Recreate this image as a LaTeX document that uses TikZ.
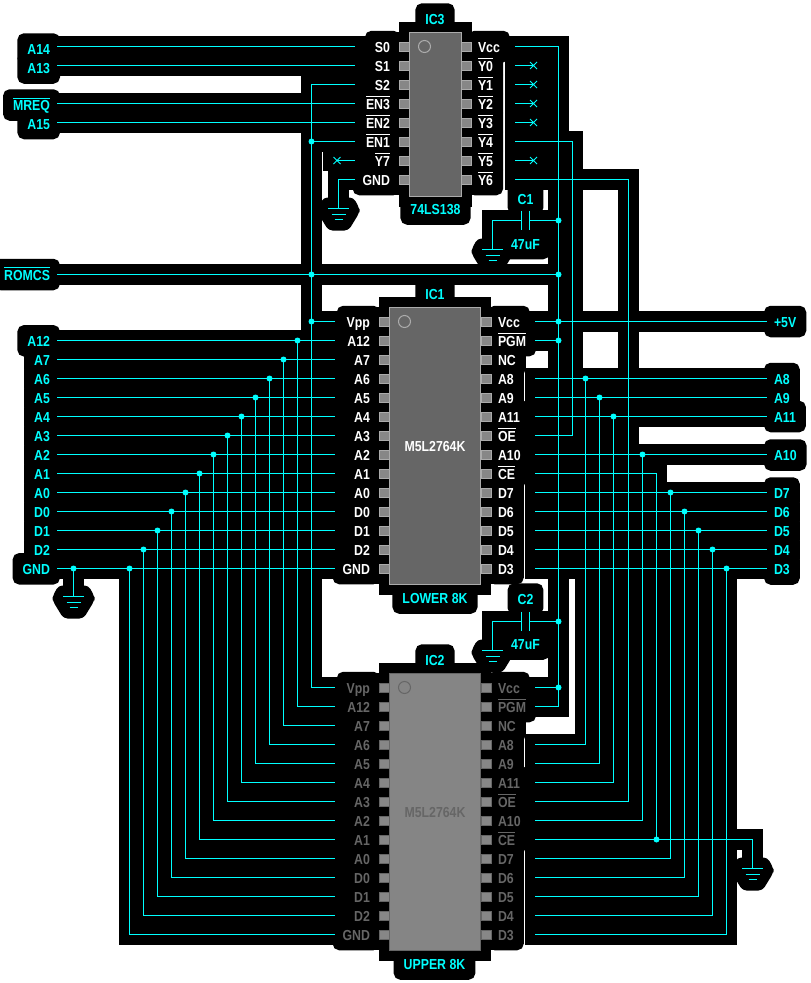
\documentclass[tikz,border=0pt]{standalone}
\usepackage{fontspec}
\setmainfont[FakeStretch=0.85]{Liberation Sans}
\usetikzlibrary{shapes.misc}
\pgfdeclarelayer{halo}
\pgfsetlayers{halo,main}
\definecolor{wirecol}{HTML}{00FFFF}
\newsavebox\ovlbox
\newcommand{\ovl}[1]{\sbox\ovlbox{#1}\rlap{\rule[11.9pt]{\wd\ovlbox}{1pt}}\usebox\ovlbox}
\tikzset{
  every node/.style={font=\fontsize{14.5pt}{15pt}\bfseries\selectfont,text height=11.5pt,text depth=0pt,outer sep=0pt},
  lbl/.style={inner sep=7pt,text=wirecol},
  glowbox/.style={draw=black,fill=black,line width=6pt,rounded corners=4pt},
  glowline/.style={draw=black,line width=21pt,line cap=rect,line join=miter},
  glowshape/.style={draw=none,fill=black,rounded corners=4pt},
  wireline/.style={draw=wirecol,line width=1pt},
  dot/.style={circle,fill=wirecol,inner sep=0pt,minimum size=6pt,text height=,text depth=},
  nomark/.style={cross out,draw=wirecol,line width=1pt,inner sep=0pt,minimum size=7pt,text height=,text depth=},
  capbox/.style={inner sep=0pt,minimum width=8pt,minimum height=19.5pt,text height=,text depth=},
  pinone/.style={circle,line width=1pt,minimum size=12pt,inner sep=0pt,text height=,text depth=},
  bodyA/.style={draw=black!33,fill=black!60,line width=1pt,inner sep=0pt,text=white},
  bodyB/.style={draw=black!60,fill=black!48,line width=1pt,inner sep=0pt,text=black!60},
  pinA/.style={draw=black!33,fill=black!47,line width=1pt,minimum width=10pt,minimum height=9pt,inner sep=0pt,text height=,text depth=},
  pinB/.style={draw=black!60,fill=black!47,line width=1pt,minimum width=10pt,minimum height=9pt,inner sep=0pt,text height=,text depth=},
  txtA/.style={text=white},
  txtB/.style={text=black!60},
}
% black surrounds are collected and all drawn at the end, on the lower layer
\gdef\haloqueue{\fill[white] (0,0) rectangle (811,983);}
\newcommand{\halo}[2][glowline]{\xdef\haloqueue{\unexpanded\expandafter{\haloqueue}\noexpand\draw[#1] #2;}}
\newcommand{\lab}[4][]{%
  \node[lbl,#1] (#2) at (#3) {#4};
  \halo[glowbox]{(#2.south west) rectangle (#2.north east)}}
\newcommand{\wire}[1]{%
  \halo{#1}
  \draw[wireline] #1;}
% chip number, body left, body right, first pin y, pin style, text style, left pins, right pins
\newcommand{\chippins}[8]{%
  \foreach \n/\txt [count=\i from 0] in {#7} {
    \lab[anchor=east,#6]{t#1\n}{#2-12,#4+19*\i}{\txt}
    \node[#5] (p#1\n) at (#2-5,#4+19*\i) {};
    \halo{(p#1\n.south west) rectangle (p#1\n.north east)}
    \coordinate (w#1\n) at (#2-54,#4+19*\i);
  }
  \foreach \n/\txt [count=\i from 0] in {#8} {
    \lab[anchor=west,#6]{t#1\n}{#3+10,#4+19*\i}{\txt}
    \node[#5] (p#1\n) at (#3+5,#4+19*\i) {};
    \halo{(p#1\n.south west) rectangle (p#1\n.north east)}
    \coordinate (w#1\n) at (#3+54,#4+19*\i);
  }}
\newcommand{\ground}[2]{%
  \coordinate (#1) at (#2);
  \halo[glowshape,shift={(#2)}]{(-15,-11) -- (15,-11) -- (21,0) -- (21,4) -- (10,22) -- (-10,22) -- (-21,4) -- (-21,0) -- cycle}
  \begin{scope}[shift={(#2)}]
    \draw[wireline] (-10.5,0) -- (10.5,0) (-7,5.5) -- (7,5.5) (-4,11) -- (4,11);
  \end{scope}}
\begin{document}
\begin{tikzpicture}[x=1pt,y=-1pt]
\useasboundingbox (0,0) rectangle (811,983);
% chips
\node[bodyA,minimum width=52pt,minimum height=164pt] (IC3) at (435,114) {};
\node[bodyA,minimum width=91pt,minimum height=277pt] (IC1) at (435,445.5) {M5L2764K};
\node[bodyB,minimum width=91pt,minimum height=277pt] (IC2) at (435,811.5) {M5L2764K};
\halo{(IC3.south west) rectangle (IC3.north east)}
\halo{(IC1.south west) rectangle (IC1.north east)}
\halo{(IC2.south west) rectangle (IC2.north east)}
\node[pinone,draw=black!33] (one3) at (424.5,46.5) {};
\node[pinone,draw=black!33] (one1) at (404.5,321.5) {};
\node[pinone,draw=black!60] (one2) at (404.5,687.5) {};
\chippins{3}{409}{461}{46.5}{pinA}{txtA}
  {S0/S0,S1/S1,S2/S2,EN3/\ovl{EN3},EN2/\ovl{EN2},EN1/\ovl{EN1},Y7/\ovl{Y7},GND/GND}
  {Vcc/Vcc,Y0/\ovl{Y0},Y1/\ovl{Y1},Y2/\ovl{Y2},Y3/\ovl{Y3},Y4/\ovl{Y4},Y5/\ovl{Y5},Y6/\ovl{Y6}}
\chippins{1}{389}{481}{321.5}{pinA}{txtA}
  {Vpp/Vpp,A12/A12,A7/A7,A6/A6,A5/A5,A4/A4,A3/A3,A2/A2,A1/A1,A0/A0,D0/D0,D1/D1,D2/D2,GND/GND}
  {Vcc/Vcc,PGM/\ovl{PGM},NC/NC,A8/A8,A9/A9,A11/A11,OE/\ovl{OE},A10/A10,CE/\ovl{CE},D7/D7,D6/D6,D5/D5,D4/D4,D3/D3}
\chippins{2}{389}{481}{687.5}{pinB}{txtB}
  {Vpp/Vpp,A12/A12,A7/A7,A6/A6,A5/A5,A4/A4,A3/A3,A2/A2,A1/A1,A0/A0,D0/D0,D1/D1,D2/D2,GND/GND}
  {Vcc/Vcc,PGM/\ovl{PGM},NC/NC,A8/A8,A9/A9,A11/A11,OE/\ovl{OE},A10/A10,CE/\ovl{CE},D7/D7,D6/D6,D5/D5,D4/D4,D3/D3}
% chip captions
\lab{nameIC3}{435,19}{IC3}
\lab{typeIC3}{435.5,209}{74LS138}
\lab{nameIC1}{435,293.5}{IC1}
\lab{lower}{435,598}{LOWER 8K}
\lab{nameIC2}{435,660}{IC2}
\lab{upper}{434.5,964}{UPPER 8K}
% signal names
\lab[anchor=east]{nA14}{57,49}{A14}
\lab[anchor=east]{nA13}{57,68}{A13}
\lab[anchor=east]{nMREQ}{57,105}{\ovl{MREQ}}
\lab[anchor=east]{nA15}{57,123.5}{A15}
\lab[anchor=east]{nROMCS}{57,274.5}{\ovl{ROMCS}}
\foreach \n [count=\i from 0] in {A12,A7,A6,A5,A4,A3,A2,A1,A0,D0,D1,D2,GND} {
  \lab[anchor=east]{n\n}{57,340.8+19*\i}{\n}
}
\foreach \n/\y in {A8/378.5,A9/397.5,A11/416.5,A10/455,D7/493,D6/512,D5/531,D4/550,D3/569} {
  \lab[anchor=west]{n\n}{767,\y}{\n}
}
\lab[anchor=west]{nVcc}{767,321.5}{+5V}
\lab{nC1}{525.5,198.5}{C1}
\lab{vC1}{525.5,243.5}{47uF}
\lab{nC2}{525.5,599}{C2}
\lab{vC2}{525.5,644}{47uF}
% capacitors and grounds
\node[capbox] (C1) at (525.5,220.5) {};
\node[capbox] (C2) at (525.5,621.5) {};
\ground{g3}{338.5,208.5}
\ground{gC1}{492.5,249.5}
\ground{gC2}{492.5,650.5}
\ground{gGND}{73.5,596.5}
\ground{gCE}{752.5,868.5}
\coordinate (bendY4) at (572.5,435.5);
\coordinate (bendY6) at (628.5,801.5);
\coordinate (bendPGM) at (558.5,706.5);
% junctions
\node[dot] (jEN1) at (311.5,141.5) {};
\node[dot] (jROMa) at (311.5,274.5) {};
\node[dot] (jROMb) at (558.5,274.5) {};
\node[dot] (jVpp) at (311.5,321.5) {};
\node[dot] (jC1) at (558.5,220.5) {};
\node[dot] (jC2) at (558.5,621.5) {};
\node[dot] (jVcc) at (558.5,321.5) {};
\node[dot] (jPGM) at (558.5,340.5) {};
\node[dot] (kVcc) at (558.5,687.5) {};
\node[dot] (kCE) at (656.5,839.5) {};
\node[dot] (kGND) at (73.5,568.5) {};
% unused outputs of IC3
\foreach \n/\y in {Y0/65.5,Y1/84.5,Y2/103.5,Y3/122.5,Y5/160.5} {
  \node[nomark] (x\n) at (533.5,\y) {};
  \halo{(w3\n) -- (x\n.east)}
  \draw[wireline] (w3\n) -- (x\n.center);
}
\node[nomark] (xY7) at (337,160.5) {};
\halo{(w3Y7) -- (xY7.west)}
\draw[wireline] (w3Y7) -- (xY7.center);
% IC3 wiring
\wire{(nA14.east |- w3S0) -- (w3S0)}
\wire{(nA13.east |- w3S1) -- (w3S1)}
\wire{(nMREQ.east |- w3EN3) -- (w3EN3)}
\wire{(nA15.east |- w3EN2) -- (w3EN2)}
\wire{(w3S2) -| (jVpp.center) |- (w2Vpp)}
\wire{(w3EN1) -- (jEN1.center)}
\wire{(w3GND) -| (g3)}
\wire{(w3Vcc) -| (bendPGM) -- (w2PGM)}
\wire{(w3Y4) -| (bendY4) -- (w1OE)}
\wire{(w3Y6) -| (bendY6) -- (w2OE)}
\wire{(nROMCS.east) -- (jROMb.center)}
\wire{(w1Vpp) -- (jVpp.center)}
\wire{(w1Vcc) -- (nVcc.west |- w1Vcc)}
\wire{(w1PGM) -- (jPGM.center)}
\wire{(w2Vcc) -- (kVcc.center)}
% capacitors
\wire{(C1.north west) -- (C1.south west)}
\wire{(C1.north east) -- (C1.south east)}
\wire{(jC1.center) -- (C1.east)}
\wire{(C1.west) -| (gC1)}
\wire{(C2.north west) -- (C2.south west)}
\wire{(C2.north east) -- (C2.south east)}
\wire{(jC2.center) -- (C2.east)}
\wire{(C2.west) -| (gC2)}
% address and data, left side
\foreach \n/\x in {A12/297.5,A7/283.5,A6/269.5,A5/255.5,A4/241.5,A3/227.5,A2/213.5,A1/199.5,A0/185.5,D0/171.5,D1/157.5,D2/143.5,GND/129.5} {
  \node[dot] (j\n) at (\x,0 |- w1\n) {};
  \wire{(n\n.east |- w1\n) -- (w1\n)}
  \wire{(j\n.center) |- (w2\n)}
}
\wire{(kGND.center) -- (gGND)}
% address and data, right side
\foreach \n/\x in {A8/585.5,A9/599.5,A11/613.5,A10/642.5,D7/670.5,D6/684.5,D5/698.5,D4/712.5,D3/726.5} {
  \node[dot] (j\n) at (\x,0 |- w1\n) {};
  \wire{(w1\n) -- (n\n.west |- w1\n)}
  \wire{(j\n.center) |- (w2\n)}
}
\wire{(w1CE) -| (kCE.center)}
\wire{(w2CE) -| (gCE)}
\begin{pgfonlayer}{halo}
\haloqueue
\end{pgfonlayer}
\end{tikzpicture}
\end{document}
